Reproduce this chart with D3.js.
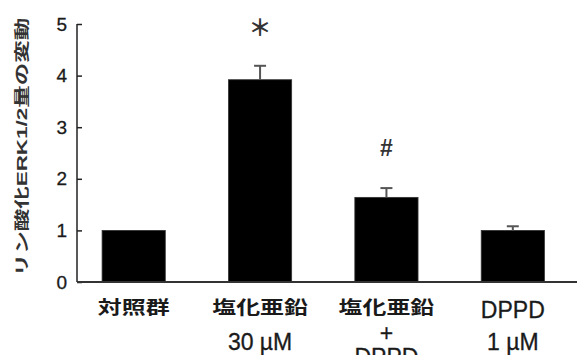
<!DOCTYPE html>
<html>
<head>
<meta charset="utf-8">
<script src="https://cdn.jsdelivr.net/npm/d3@7"></script>
<style>
  html, body { margin: 0; padding: 0; background: #fff; }
  svg { display: block; }
</style>
</head>
<body>
<svg id="chart" width="578" height="355"></svg>
<script>
// ---- data ----
const categories = ["対照群", "塩化亜鉛30", "塩化亜鉛DPPD", "DPPD1"];
const labelLines = [
  [{t: "対照群", cjk: true}],
  [{t: "塩化亜鉛", cjk: true}, {t: "30 µM", cjk: false}],
  [{t: "塩化亜鉛", cjk: true}, {t: "+", cjk: false}, {t: "DPPD", cjk: false}],
  [{t: "DPPD", cjk: false}, {t: "1 µM", cjk: false}]
];
const values = [1.0, 3.92, 1.64, 1.0];
const errors = [0.0, 0.27, 0.18, 0.08];
const marks = ["", "＊", "#", ""];
const yTicks = [0, 1, 2, 3, 4, 5];
const yLabel = "リン酸化ERK1/2量の変動";

// ---- layout ----
const svg = d3.select("#chart");
const axisX = 77, axisRight = 577, yTop = 24, yBottom = 282;

const x = d3.scaleBand().domain(categories).range([70.5, 576]).paddingInner(0.5).paddingOuter(0.25);
const y = d3.scaleLinear().domain([0, 5]).range([yBottom, yTop]);

const latin = "'Liberation Sans', Arial, 'Noto Sans CJK JP', sans-serif";
const cjk = "'Noto Sans CJK JP', 'Noto Sans CJK SC', sans-serif";
const ink = "#1a1a1a";

// bars
svg.append("g").selectAll("rect").data(categories).join("rect")
  .attr("x", d => x(d))
  .attr("width", x.bandwidth())
  .attr("y", (d, i) => y(values[i]))
  .attr("height", (d, i) => y(0) - y(values[i]))
  .attr("fill", "#000")
  .attr("stroke", "#333")
  .attr("stroke-width", 0.8);

// error bars
const eg = svg.append("g").attr("stroke", "#555").attr("stroke-width", 2);
categories.forEach((c, i) => {
  if (errors[i] <= 0) return;
  const cx = x(c) + x.bandwidth() / 2;
  eg.append("line").attr("x1", cx).attr("x2", cx)
    .attr("y1", y(values[i])).attr("y2", y(values[i] + errors[i]));
  eg.append("line").attr("x1", cx - 6).attr("x2", cx + 6)
    .attr("y1", y(values[i] + errors[i])).attr("y2", y(values[i] + errors[i]));
});

// significance marks
categories.forEach((c, i) => {
  if (!marks[i]) return;
  const cx = x(c) + x.bandwidth() / 2;
  const top = y(values[i] + errors[i]) - 40;
  const isStar = marks[i] === "＊";
  svg.append("text")
    .attr("x", cx).attr("y", top)
    .attr("text-anchor", "middle")
    .attr("dominant-baseline", "central")
    .attr("font-family", isStar ? cjk : latin)
    .attr("font-weight", "bold")
    .attr("font-size", isStar ? 23 : 23)
    .attr("fill", "#333")
    .text(marks[i]);
});

// y axis with inward ticks
const yAxis = d3.axisRight(y).tickValues(yTicks).tickSize(5).tickFormat("");
const ya = svg.append("g").attr("transform", `translate(${axisX},0)`).call(yAxis);
ya.select(".domain").remove();
ya.selectAll(".tick line").attr("stroke", "#222").attr("stroke-width", 1.5);
svg.append("line").attr("x1", axisX).attr("x2", axisX).attr("y1", yTop).attr("y2", yBottom)
  .attr("stroke", "#222").attr("stroke-width", 1.5);
// tick labels
svg.append("g").selectAll("text").data(yTicks).join("text")
  .attr("x", 67).attr("y", d => y(d))
  .attr("text-anchor", "end")
  .attr("dominant-baseline", "central")
  .attr("font-family", latin)
  .attr("font-size", 19)
  .attr("fill", ink)
  .attr("stroke", ink).attr("stroke-width", 0.3)
  .text(d => d);

// x axis baseline
svg.append("line").attr("x1", axisX).attr("x2", axisRight).attr("y1", yBottom).attr("y2", yBottom)
  .attr("stroke", "#333").attr("stroke-width", 2);

// y label
svg.append("text")
  .attr("transform", "translate(22,147) rotate(-90) scale(1.5,1)")
  .attr("text-anchor", "middle")
  .attr("dominant-baseline", "central")
  .attr("font-family", latin)
  .attr("font-weight", "bold")
  .attr("font-size", 15)
  .attr("fill", "#333")
  .text(yLabel);

// x labels
const baselines = [[314], [314, 350], [314, 341, 365], [318, 350]];
categories.forEach((c, i) => {
  const cx = x(c) + x.bandwidth() / 2;
  labelLines[i].forEach((ln, j) => {
    const by = baselines[i][j];
    const g = svg.append("g").attr("transform", `translate(${cx},${by}) scale(${ln.cjk ? 1.33 : 1},1)`);
    g.append("text")
      .attr("x", 0).attr("y", 0)
      .attr("text-anchor", "middle")
      .attr("font-family", ln.cjk ? cjk : latin)
      .attr("font-weight", ln.cjk ? "bold" : "normal")
      .attr("font-size", ln.cjk ? 18 : 23)
      .attr("fill", ink)
      .attr("stroke", ln.cjk ? "none" : ink).attr("stroke-width", 0.3)
      .text(ln.t);
  });
});
</script>
</body>
</html>
